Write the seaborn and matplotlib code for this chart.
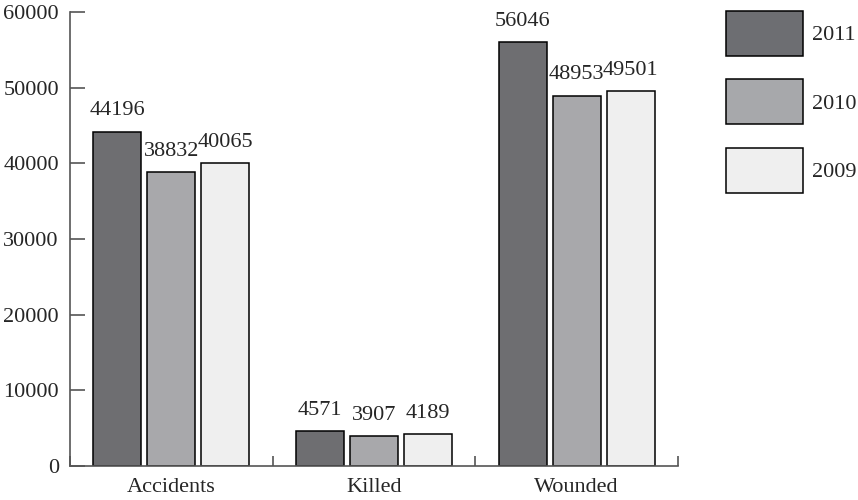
import pandas as pd
import seaborn as sns
import matplotlib.pyplot as plt
from matplotlib.patches import Patch

# data
categories = ["Accidents", "Killed", "Wounded"]
years = ["2011", "2010", "2009"]
values_2011 = [44196, 4571, 56046]
values_2010 = [38832, 3907, 48953]
values_2009 = [40065, 4189, 49501]

COLORS = ["#6d6e72", "#a7a8ab", "#efefef"]
SPINE = "#555555"
FS = 16

sns.set_style("white")
plt.rcParams["font.family"] = ["Liberation Serif", "DejaVu Serif"]

df = pd.DataFrame({
    "category": categories * 3,
    "year": [years[0]] * 3 + [years[1]] * 3 + [years[2]] * 3,
    "value": values_2011 + values_2010 + values_2009,
})

fig = plt.figure(figsize=(8.58, 5.0), dpi=100)
ax = fig.add_axes([70 / 858, 34 / 500, 608 / 858, 454 / 500])

sns.barplot(
    data=df, x="category", y="value", hue="year",
    hue_order=years, order=categories, palette=COLORS,
    width=0.8, gap=0.11, edgecolor="black", linewidth=1.1,
    legend=False, ax=ax,
)

for cont in ax.containers:
    ax.bar_label(cont, padding=8, fontsize=FS)

ax.set_ylim(0, 60000)
ax.set_xlim(-0.5, 2.5)
ax.set_yticks(range(0, 60001, 10000))
ax.set_xlabel("")
ax.set_ylabel("")

# category boundaries get the small upward ticks
ax.set_xticks([-0.5, 0.5, 1.5, 2.5], minor=True)
ax.tick_params(axis="x", which="major", bottom=True, length=0, pad=9,
               labelsize=FS)
ax.tick_params(axis="x", which="minor", bottom=True, direction="in",
               length=7, width=1.2, color=SPINE)
ax.tick_params(axis="y", left=True, direction="in", length=11, width=1.2,
               color=SPINE, pad=8, labelsize=FS)

for side in ["top", "right"]:
    ax.spines[side].set_visible(False)
for side in ["left", "bottom"]:
    ax.spines[side].set_color(SPINE)
    ax.spines[side].set_linewidth(1.2)

handles = [Patch(facecolor=c, edgecolor="black", linewidth=1.1) for c in COLORS]
fig.legend(
    handles, years, loc="upper left",
    bbox_to_anchor=(726 / 858, 1 - 11 / 500),
    frameon=False, fontsize=FS, borderpad=0, borderaxespad=0,
    handlelength=3.47, handleheight=2.75, labelspacing=1.04,
    handletextpad=0.4,
)

fig.savefig("out.png", dpi=100)
